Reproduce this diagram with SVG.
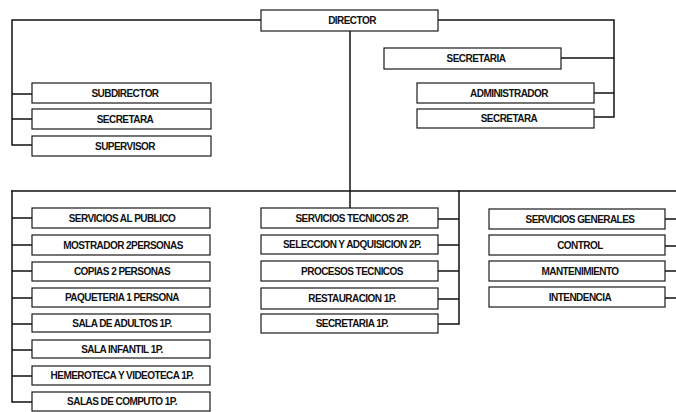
<svg xmlns="http://www.w3.org/2000/svg" width="676" height="412" viewBox="0 0 676 412">
<style>
.box{fill:#fff;stroke:#1a1a1a;stroke-width:1.2}
.lbl{font-family:"Liberation Sans",Arial,sans-serif;font-weight:bold;font-size:10px;letter-spacing:-0.55px;fill:#111;text-anchor:middle}
.ln{fill:none;stroke:#111;stroke-width:1.5;stroke-linecap:square}
</style>
<rect width="676" height="412" fill="#fff"/>
<g id="connectors">
<path class="ln" d="M261 20H12V145M12 94H32M12 119H32M12 145H32"/>
<path class="ln" d="M438 20H614V117M561 58H614M594 93H614M594 117H614"/>
<path class="ln" d="M350 31V208"/>
<path class="ln" d="M12 191H676"/>
<path class="ln" d="M12 191V402M12 218H32M12 245H32M12 271H32M12 298H32M12 324H32M12 350H32M12 376H32M12 402H32"/>
<path class="ln" d="M459 191V324M438 219H459M438 245H459M438 271H459M438 299H459M438 324H459"/>
<path class="ln" d="M665 219H676M665 246H676M665 271H676M665 298H676"/>
</g>
<g id="director"><rect class="box" x="261" y="10" width="177" height="21"/><text class="lbl" x="352" y="24">DIRECTOR</text></g>
<g id="subdirector"><rect class="box" x="32" y="83" width="179" height="20"/><text class="lbl" x="125" y="97">SUBDIRECTOR</text></g>
<g id="secretara-left"><rect class="box" x="32" y="109" width="179" height="20"/><text class="lbl" x="125" y="123">SECRETARA</text></g>
<g id="supervisor"><rect class="box" x="32" y="136" width="179" height="20"/><text class="lbl" x="125" y="150">SUPERVISOR</text></g>
<g id="secretaria-top"><rect class="box" x="384" y="48" width="177" height="21"/><text class="lbl" x="476" y="62">SECRETARIA</text></g>
<g id="administrador"><rect class="box" x="417" y="83" width="177" height="20"/><text class="lbl" x="509" y="97">ADMINISTRADOR</text></g>
<g id="secretara-right"><rect class="box" x="417" y="109" width="177" height="19"/><text class="lbl" x="509" y="122">SECRETARA</text></g>
<g id="servicios-publico"><rect class="box" x="32" y="208" width="178" height="20"/><text class="lbl" x="122" y="222">SERVICIOS AL PUBLICO</text></g>
<g id="mostrador"><rect class="box" x="32" y="235" width="178" height="20"/><text class="lbl" x="123" y="249">MOSTRADOR 2PERSONAS</text></g>
<g id="copias"><rect class="box" x="32" y="262" width="178" height="19"/><text class="lbl" x="122" y="275">COPIAS 2 PERSONAS</text></g>
<g id="paqueteria"><rect class="box" x="32" y="288" width="178" height="19"/><text class="lbl" x="122" y="301">PAQUETERIA 1 PERSONA</text></g>
<g id="sala-adultos"><rect class="box" x="32" y="314" width="178" height="18"/><text class="lbl" x="122" y="327">SALA DE ADULTOS 1P.</text></g>
<g id="sala-infantil"><rect class="box" x="32" y="340" width="178" height="18"/><text class="lbl" x="122" y="353">SALA INFANTIL 1P.</text></g>
<g id="hemeroteca"><rect class="box" x="32" y="366" width="178" height="19"/><text class="lbl" x="122" y="379">HEMEROTECA Y VIDEOTECA 1P.</text></g>
<g id="salas-computo"><rect class="box" x="32" y="392" width="178" height="19"/><text class="lbl" x="122" y="405">SALAS DE COMPUTO 1P.</text></g>
<g id="servicios-tecnicos"><rect class="box" x="261" y="208" width="177" height="20"/><text class="lbl" x="352" y="222">SERVICIOS TECNICOS 2P.</text></g>
<g id="seleccion"><rect class="box" x="261" y="235" width="177" height="19"/><text class="lbl" x="352" y="248">SELECCION Y ADQUISICION 2P.</text></g>
<g id="procesos"><rect class="box" x="261" y="261" width="177" height="20"/><text class="lbl" x="352" y="275">PROCESOS TECNICOS</text></g>
<g id="restauracion"><rect class="box" x="261" y="288" width="177" height="21"/><text class="lbl" x="352" y="302">RESTAURACION 1P.</text></g>
<g id="secretaria-tec"><rect class="box" x="261" y="314" width="177" height="19"/><text class="lbl" x="352" y="327">SECRETARIA 1P.</text></g>
<g id="servicios-generales"><rect class="box" x="489" y="209" width="176" height="20"/><text class="lbl" x="580" y="223">SERVICIOS GENERALES</text></g>
<g id="control"><rect class="box" x="489" y="235" width="176" height="20"/><text class="lbl" x="580" y="249">CONTROL</text></g>
<g id="mantenimiento"><rect class="box" x="489" y="261" width="176" height="20"/><text class="lbl" x="580" y="275">MANTENIMIENTO</text></g>
<g id="intendencia"><rect class="box" x="489" y="287" width="176" height="20"/><text class="lbl" x="580" y="301">INTENDENCIA</text></g>
</svg>
